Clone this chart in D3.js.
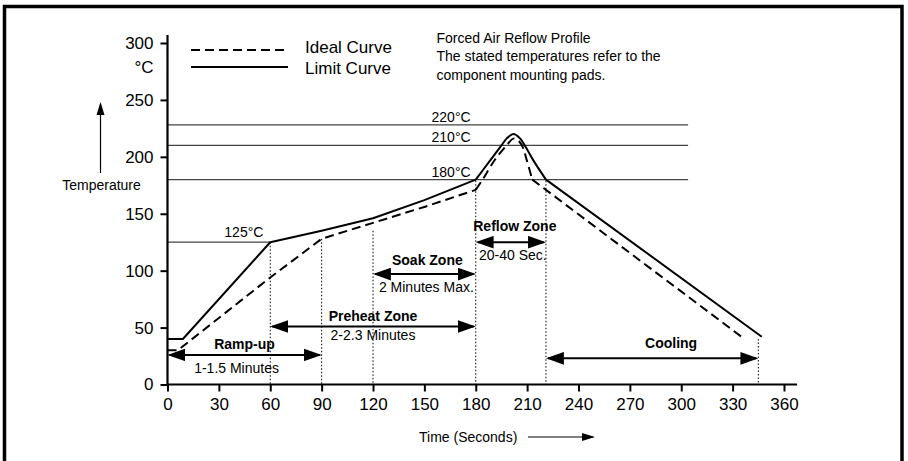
<!DOCTYPE html>
<html>
<head>
<meta charset="utf-8">
<script src="https://cdn.jsdelivr.net/npm/d3@7"></script>
<style>
  body { margin: 0; background: #fff; }
  svg { display: block; font-family: "Liberation Sans", Arial, Helvetica, sans-serif; }
</style>
</head>
<body>
<div id="chart"></div>
<script>
// DATA
// x ticks (seconds) and y ticks (deg C)
var xTicks = [0, 30, 60, 90, 120, 150, 180, 210, 240, 270, 300, 330, 360];
var yTicks = [0, 50, 100, 150, 200, 250, 300];

// limit curve (solid): straight ramp, rounded peak, straight cooling
var limitRamp = [[0, 40], [9, 40], [60, 125], [90, 135], [120, 146], [150, 162], [180, 180]];
var limitPeak = [[180, 180], [188, 196], [195, 210], [198, 216], [202, 220], [206, 216], [209, 209], [214, 196], [221, 180]];
var limitCool = [[221, 180], [347, 42]];

// ideal curve (dashed)
var idealRamp = [[0, 30], [6, 30], [60, 94], [90, 128], [120, 142], [150, 156], [180, 171]];
var idealPeak = [[180, 171], [184, 180], [191, 197], [198, 210], [202, 216], [205, 214], [207, 210], [210, 196], [213, 180]];
var idealCool = [[213, 180], [336, 41]];

// horizontal reference lines (the 220 line sits a bit high in the source drawing)
var refValues = [228, 210, 180, 125];
var refLabels = ["220°C", "210°C", "180°C", "125°C"];
var refEnd = [304, 304, 304, 60];

// dotted zone markers: time, and temp where they start
var markT = [60, 90, 120, 180, 221, 345];
var markTop = [125, 128, 135, 179, 179, 40];

// zones
var zoneNames = ["Ramp-up", "Preheat Zone", "Soak Zone", "Reflow Zone", "Cooling"];
var zoneSub = ["1-1.5 Minutes", "2-2.3 Minutes", "2 Minutes Max.", "20-40 Sec.", ""];
var zoneStart = [0, 60, 120, 180, 221];
var zoneEnd = [90, 180, 180, 221, 345];
var zoneTemp = [26, 51, 97, 125, 23];

var notes = ["Forced Air Reflow Profile",
  "The stated temperatures refer to the",
  "component mounting pads."];

// SETUP
var W = 908, H = 461;
var svg = d3.select("#chart").append("svg")
  .attr("width", W)
  .attr("height", H);

var x = d3.scaleLinear().domain([0, 360]).range([167.5, 784]);
var y = d3.scaleLinear().domain([0, 300]).range([384.5, 43]);

var defs = svg.append("defs");
// big zone arrowhead
defs.append("marker")
  .attr("id", "head")
  .attr("markerUnits", "userSpaceOnUse")
  .attr("markerWidth", 18).attr("markerHeight", 13)
  .attr("viewBox", "0 0 17 12")
  .attr("refX", 15).attr("refY", 6)
  .attr("orient", "auto-start-reverse")
  .append("path").attr("d", "M0,0L17,6L0,12Z").attr("fill", "#000");
// small axis-title arrowhead
defs.append("marker")
  .attr("id", "headSmall")
  .attr("markerUnits", "userSpaceOnUse")
  .attr("markerWidth", 13).attr("markerHeight", 9)
  .attr("viewBox", "0 0 13 8")
  .attr("refX", 11).attr("refY", 4)
  .attr("orient", "auto")
  .append("path").attr("d", "M0,0L13,4L0,8Z").attr("fill", "#000");

// frame
svg.append("rect")
  .attr("x", 4.5).attr("y", 6.5)
  .attr("width", 897.5).attr("height", 480)
  .attr("fill", "none")
  .attr("stroke", "#000")
  .attr("stroke-width", 3.5);

// reference lines
var refs = svg.append("g");
refs.selectAll("line")
  .data(refValues)
  .enter().append("line")
  .attr("x1", x(0))
  .attr("x2", function (d, i) { return x(refEnd[i]); })
  .attr("y1", function (d) { return y(d); })
  .attr("y2", function (d) { return y(d); })
  .attr("stroke", "#444")
  .attr("stroke-width", 1.2);
refs.selectAll("text")
  .data(refValues)
  .enter().append("text")
  .attr("x", function (d, i) { return i < 3 ? x(177) : x(56); })
  .attr("y", function (d, i) { return y(d) - (i < 3 ? 3 : 5); })
  .attr("text-anchor", "end")
  .attr("font-size", 14)
  .text(function (d, i) { return refLabels[i]; });

// dotted zone markers
svg.append("g").selectAll("line")
  .data(markT)
  .enter().append("line")
  .attr("x1", function (d) { return x(d); })
  .attr("x2", function (d) { return x(d); })
  .attr("y1", function (d, i) { return y(markTop[i]); })
  .attr("y2", y(0))
  .attr("stroke", "#000")
  .attr("stroke-width", 1)
  .attr("stroke-dasharray", "1.5,2");

// curves
var straight = d3.line()
  .x(function (d) { return x(d[0]); })
  .y(function (d) { return y(d[1]); });
var smooth = d3.line()
  .x(function (d) { return x(d[0]); })
  .y(function (d) { return y(d[1]); })
  .curve(d3.curveCatmullRom.alpha(0.5));

var curves = svg.append("g")
  .attr("fill", "none")
  .attr("stroke", "#000")
  .attr("stroke-width", 2)
  .attr("stroke-linejoin", "round");
curves.append("path").attr("d", straight(limitRamp) + smooth(limitPeak) + straight(limitCool));
curves.append("path")
  .attr("d", straight(idealRamp) + smooth(idealPeak) + straight(idealCool))
  .attr("stroke-dasharray", "9,5");

// axes
var gx = svg.append("g")
  .attr("transform", "translate(0," + y(0) + ")")
  .call(d3.axisBottom(x).tickValues(xTicks).tickSize(7).tickPadding(6).tickSizeOuter(0));
gx.select(".domain").attr("d", "M" + x(0) + ",0H797").attr("stroke-width", 2.2);
gx.selectAll(".tick line").attr("stroke-width", 2);
gx.selectAll(".tick text").attr("font-size", 17).attr("font-family", null);

var gy = svg.append("g")
  .attr("transform", "translate(" + x(0) + ",0)")
  .call(d3.axisLeft(y).tickValues(yTicks).tickSize(7).tickPadding(7).tickSizeOuter(0));
gy.select(".domain").attr("d", "M0," + y(0) + "V35").attr("stroke-width", 2.2);
gy.selectAll(".tick line").attr("stroke-width", 2);
gy.selectAll(".tick text").attr("font-size", 17).attr("font-family", null);

svg.append("text")
  .attr("x", x(0) - 14).attr("y", 72.5)
  .attr("text-anchor", "end")
  .attr("font-size", 17)
  .text("°C");

// zone arrows
var zones = svg.append("g").selectAll("g")
  .data(zoneNames)
  .enter().append("g");
zones.append("line")
  .attr("x1", function (d, i) { return x(zoneStart[i]) + 2; })
  .attr("x2", function (d, i) { return x(zoneEnd[i]) - 2; })
  .attr("y1", function (d, i) { return y(zoneTemp[i]); })
  .attr("y2", function (d, i) { return y(zoneTemp[i]); })
  .attr("stroke", "#000")
  .attr("stroke-width", 2)
  .attr("marker-start", "url(#head)")
  .attr("marker-end", "url(#head)");

var titleDy = [-6, -5, -9, -11, -10];
var subDy = [18, 14, 18, 18, 0];
var titleDx = [0, 0, 3, 4, 19];
var subDx = [-8, 0, 2, 2, 0];
function mid(i) { return (x(zoneStart[i]) + x(zoneEnd[i])) / 2; }
zones.append("text")
  .attr("x", function (d, i) { return mid(i) + titleDx[i]; })
  .attr("y", function (d, i) { return y(zoneTemp[i]) + titleDy[i]; })
  .attr("text-anchor", "middle")
  .attr("font-size", 14)
  .attr("font-weight", "bold")
  .text(function (d) { return d; });
zones.append("text")
  .attr("x", function (d, i) { return mid(i) + subDx[i]; })
  .attr("y", function (d, i) { return y(zoneTemp[i]) + subDy[i]; })
  .attr("text-anchor", "middle")
  .attr("font-size", 14)
  .text(function (d, i) { return zoneSub[i]; });

// legend
var legend = svg.append("g");
legend.append("line")
  .attr("x1", 191).attr("x2", 288).attr("y1", 50).attr("y2", 50)
  .attr("stroke", "#000").attr("stroke-width", 2).attr("stroke-dasharray", "9,5");
legend.append("line")
  .attr("x1", 191).attr("x2", 288).attr("y1", 67).attr("y2", 67)
  .attr("stroke", "#000").attr("stroke-width", 2);
legend.append("text").attr("x", 305).attr("y", 52.5).attr("font-size", 17).text("Ideal Curve");
legend.append("text").attr("x", 305).attr("y", 74).attr("font-size", 17).text("Limit Curve");

// notes top right
svg.append("g").selectAll("text")
  .data(notes)
  .enter().append("text")
  .attr("x", 436.5)
  .attr("y", function (d, i) { return 43 + i * 18.3; })
  .attr("font-size", 14)
  .text(function (d) { return d; });

// axis titles with arrows
svg.append("line")
  .attr("x1", 100.5).attr("x2", 100.5).attr("y1", 173).attr("y2", 104)
  .attr("stroke", "#000").attr("stroke-width", 1.2)
  .attr("marker-end", "url(#headSmall)");
svg.append("text")
  .attr("x", 101.5).attr("y", 190)
  .attr("text-anchor", "middle")
  .attr("font-size", 14)
  .text("Temperature");

svg.append("text")
  .attr("x", 419).attr("y", 441.5)
  .attr("font-size", 14)
  .text("Time (Seconds)");
svg.append("line")
  .attr("x1", 528).attr("x2", 593).attr("y1", 437).attr("y2", 437)
  .attr("stroke", "#000").attr("stroke-width", 1.2)
  .attr("marker-end", "url(#headSmall)");
</script>
</body>
</html>
